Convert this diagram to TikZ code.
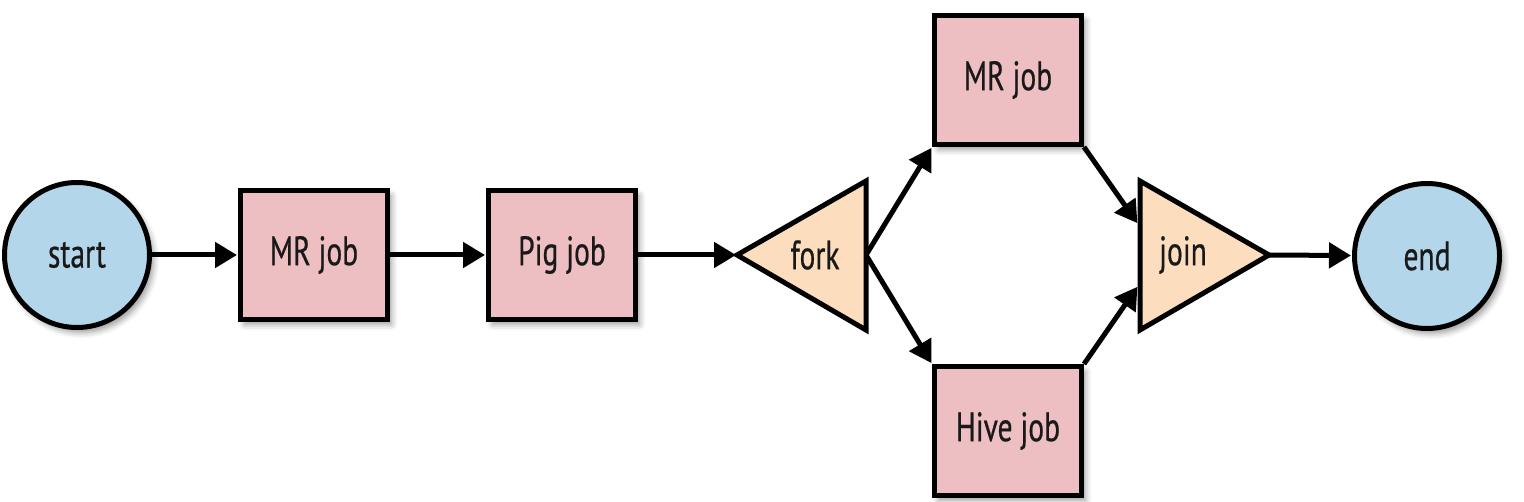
\documentclass[tikz,border=0pt]{standalone}
\usepackage{fontspec}
\setmainfont{PT Sans}[FakeStretch=0.72,FakeBold=0.5]
\usetikzlibrary{arrows.meta,shadows.blur}
\definecolor{cblue}{RGB}{179,214,234}
\definecolor{cpink}{RGB}{238,191,194}
\definecolor{cpeach}{RGB}{252,222,190}
\begin{document}
\begin{tikzpicture}[x=1pt,y=-1pt,
  every node/.style={font=\fontsize{41}{44}\selectfont, text=black!90},
  shade/.style={blur shadow={shadow xshift=4pt, shadow yshift=-5pt, shadow blur radius=6pt, shadow opacity=40}},
  endpoint/.style={circle, draw=black, line width=5pt, fill=cblue, minimum size=145pt, inner sep=0pt, shade},
  jobbox/.style={rectangle, draw=black, line width=5pt, fill=cpink, minimum width=147pt, minimum height=129pt, inner sep=0pt, shade},
  tri/.style={draw=black, line width=5pt, fill=cpeach, line join=miter},
  flow/.style={line width=5pt, -{Triangle[length=22pt,width=25pt]}, shorten >=1pt}
]
\useasboundingbox (0,0) rectangle (1524,502);

\node[endpoint] (start) at (77,255) {start};
\node[jobbox] (mr1) at (314,255) {MR job};
\node[jobbox] (pig) at (562,255) {Pig job};
\node[jobbox] (mr2) at (1008,80) {MR job};
\node[jobbox] (hive) at (1008,431) {Hive job};
\node[endpoint] (end) at (1427,256) {end};

% fork triangle
\coordinate (forkL) at (737,255);
\coordinate (forkT) at (866,181);
\coordinate (forkB) at (866,330);
\coordinate (forkR) at (866,255);
\draw[tri] (forkL) -- (forkT) -- (forkB) -- cycle;
\node (fork) at (815,255) {fork};

% join triangle
\coordinate (joinT) at (1140,181);
\coordinate (joinB) at (1140,330);
\coordinate (joinR) at (1269,255);
\coordinate (joinU) at (1138,224);
\coordinate (joinD) at (1138,286);
\draw[tri] (joinT) -- (joinR) -- (joinB) -- cycle;
\node (join) at (1183,255) {join};

\draw[flow] (start) -- (mr1);
\draw[flow] (mr1) -- (pig);
\draw[flow] (pig) -- (forkL);
\draw[flow] (forkR) -- (mr2.south west);
\draw[flow] (forkR) -- (hive.north west);
\draw[flow] (mr2.south east) -- (joinU);
\draw[flow] (hive.north east) -- (joinD);
\draw[flow] (joinR) -- (end);
\end{tikzpicture}
\end{document}
